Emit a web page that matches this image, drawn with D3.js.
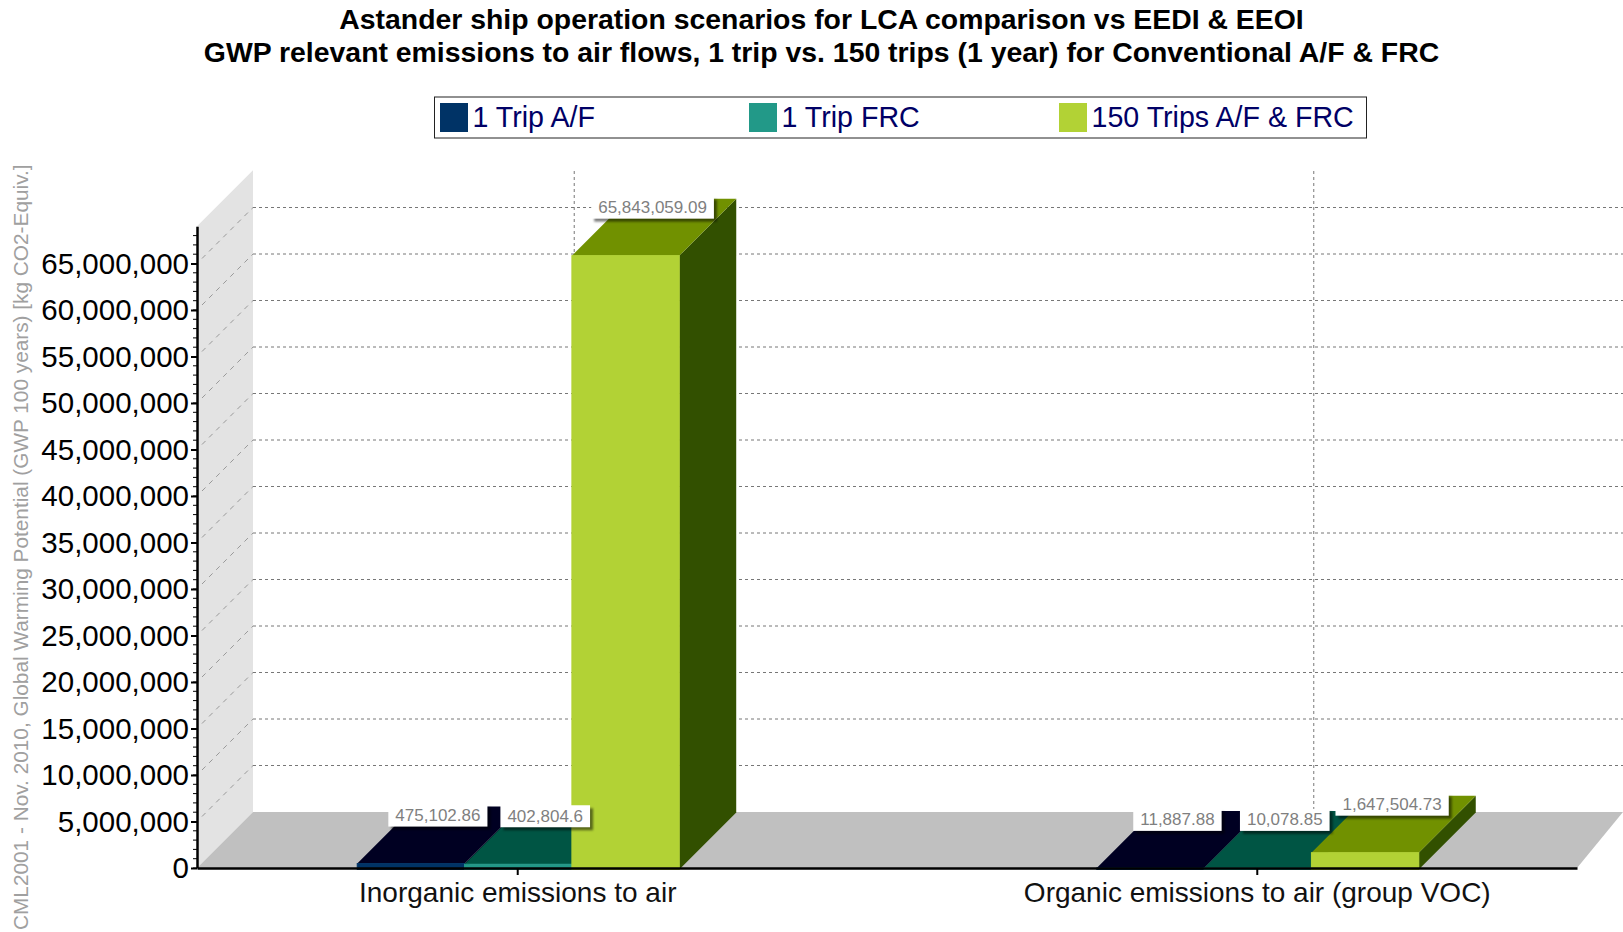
<!DOCTYPE html>
<html>
<head>
<meta charset="utf-8">
<script src="https://cdn.jsdelivr.net/npm/d3@7/dist/d3.min.js"></script>
<style>
html,body{margin:0;padding:0;background:#fff;overflow:hidden}
svg{display:block}
text{font-family:"Liberation Sans",Arial,sans-serif}
</style>
</head>
<body>
<svg id="chart" width="1623" height="932">
  <defs>
    <filter id="labelShadow" x="-10%" y="-30%" width="120%" height="160%">
      <feGaussianBlur stdDeviation="1"/>
    </filter>
  </defs>
</svg>
<script>
const titleLines = [
  "Astander ship operation scenarios for LCA comparison vs EEDI & EEOI",
  "GWP relevant emissions to air flows, 1 trip vs. 150 trips (1 year) for Conventional A/F & FRC"
];
const yAxisTitle = "CML2001 - Nov. 2010, Global Warming Potential (GWP 100 years) [kg CO2-Equiv.]";
const categories = ["Inorganic emissions to air", "Organic emissions to air (group VOC)"];
const seriesNames = ["1 Trip A/F", "1 Trip FRC", "150 Trips A/F & FRC"];
const trip1AF = [475102.86, 11887.88];
const trip1FRC = [402804.6, 10078.85];
const trips150 = [65843059.09, 1647504.73];
const valueLabels = [
  ["475,102.86", "11,887.88"],
  ["402,804.6", "10,078.85"],
  ["65,843,059.09", "1,647,504.73"]
];
const frontColors = ["#003366", "#229988", "#B2D235"];
const topColors = ["#000022", "#005544", "#719100"];
const sideColors = ["#000022", "#005544", "#325000"];

const seriesValues = [trip1AF, trip1FRC, trips150];

const svg = d3.select("#chart");
const depth = 56;
const barDepth = 57;
const x0 = 197, x1 = 1577, yBase = 868;

const y = d3.scaleLinear().domain([0, 69000000]).range([yBase, yBase - 641.7]);
const xCat = d3.scalePoint().domain(categories).range([x0, x1]).padding(0.433);
const xBar = d3.scaleBand().domain(d3.range(3)).range([-160, 162]);

/* Titles */
svg.selectAll("text.title").data(titleLines).join("text")
  .attr("class", "title")
  .attr("x", 821.5).attr("y", (d, i) => 29 + i * 33)
  .attr("text-anchor", "middle")
  .attr("font-size", 28.4).attr("font-weight", "bold").attr("fill", "#000")
  .text(d => d);

/* Legend */
const legend = svg.append("g");
legend.append("rect").attr("x", 434.5).attr("y", 97).attr("width", 932).attr("height", 41)
  .attr("fill", "#fff").attr("stroke", "#222").attr("stroke-width", 1);
const legendX = d3.scaleOrdinal().domain(seriesNames).range([440, 749, 1059]);
const legendItems = legend.selectAll("g").data(seriesNames).join("g")
  .attr("transform", d => `translate(${legendX(d)},0)`);
legendItems.append("rect").attr("y", 103).attr("width", 28).attr("height", 29)
  .attr("fill", (d, i) => frontColors[i]);
legendItems.append("text").attr("x", 32.5).attr("y", 127)
  .attr("font-size", 28.6).attr("fill", "#000066").text(d => d);

/* Walls */
const wall = svg.append("g");
wall.append("polygon").attr("fill", "#E3E3E3")
  .attr("points", [[x0, yBase], [x0, y(69000000)], [x0 + depth, y(69000000) - depth], [x0 + depth, yBase - depth]].join(" "));
wall.append("polygon").attr("fill", "#C0C0C0")
  .attr("points", [[x0, yBase], [x0 + depth, yBase - depth], [1623, yBase - depth], [x1, yBase]].join(" "));

/* Grid */
const majorTicks = d3.range(5000000, 65000001, 5000000);
const minorTicks = d3.range(0, 69000000, 1000000);
const grid = svg.append("g").attr("fill", "none");
grid.selectAll("line.h").data(majorTicks).join("line").attr("class", "h")
  .attr("x1", x0 + depth).attr("x2", 1623)
  .attr("y1", d => y(d) - depth).attr("y2", d => y(d) - depth)
  .attr("stroke", "#777").attr("stroke-dasharray", "3 3");
grid.selectAll("line.d").data(majorTicks).join("line").attr("class", "d")
  .attr("x1", x0 + 5).attr("x2", x0 + depth)
  .attr("y1", d => y(d) - 5).attr("y2", d => y(d) - depth)
  .attr("stroke", "#999").attr("stroke-dasharray", "5 5");
grid.selectAll("line.v").data(categories).join("line").attr("class", "v")
  .attr("x1", d => xCat(d) + barDepth).attr("x2", d => xCat(d) + barDepth)
  .attr("y1", yBase - depth - 641).attr("y2", yBase - depth)
  .attr("stroke", "#777").attr("stroke-dasharray", "3 3");

/* Bars: each one is a side, a top and a front face */
const bw = xBar.bandwidth();
const barBottom = yBase + 1.5;
const barData = [];
seriesValues.forEach((vals, s) => vals.forEach((v, c) => {
  barData.push({s, c, v, left: xCat(categories[c]) + xBar(s), top: y(v)});
}));
const bars = svg.append("g").selectAll("g").data(barData).join("g");
bars.append("polygon").attr("fill", d => sideColors[d.s])
  .attr("points", d => [[d.left + bw, d.top], [d.left + bw + barDepth, d.top - barDepth], [d.left + bw + barDepth, barBottom - barDepth], [d.left + bw, barBottom]].join(" "));
bars.append("polygon").attr("fill", d => topColors[d.s])
  .attr("points", d => [[d.left, d.top], [d.left + barDepth, d.top - barDepth], [d.left + bw + barDepth, d.top - barDepth], [d.left + bw, d.top]].join(" "));
bars.append("rect").attr("fill", d => frontColors[d.s])
  .attr("stroke", d => frontColors[d.s]).attr("stroke-width", 1)
  .attr("x", d => d.left).attr("y", d => d.top)
  .attr("width", bw).attr("height", d => barBottom - d.top);

/* Axes */
const yAxis = d3.axisLeft(y).tickValues(d3.range(0, 65000001, 5000000))
  .tickFormat(d3.format(",")).tickSize(6).tickSizeOuter(0).tickPadding(2);
const yAxisG = svg.append("g").attr("transform", `translate(${x0},0)`).call(yAxis);
yAxisG.selectAll("text").attr("font-size", 29.5).attr("fill", "#000").attr("dy", "0.33em")
  .style("font-family", '"Liberation Sans",Arial,sans-serif');
yAxisG.select(".domain").attr("stroke", "#000").attr("stroke-width", 2.5);
yAxisG.selectAll(".tick line").attr("stroke", "#000").attr("stroke-width", 2);
svg.append("g").selectAll("line").data(minorTicks).join("line")
  .attr("x1", x0 - 4).attr("x2", x0).attr("y1", d => y(d)).attr("y2", d => y(d))
  .attr("stroke", "#000").attr("stroke-width", 1);

const xAxis = d3.axisBottom(xCat).tickSize(7).tickSizeOuter(0).tickPadding(7);
const xAxisG = svg.append("g").attr("transform", `translate(0,${yBase})`).call(xAxis);
xAxisG.select(".domain").attr("stroke", "#000").attr("stroke-width", 2.5);
xAxisG.selectAll(".tick line").attr("stroke", "#000").attr("stroke-width", 2);
xAxisG.selectAll("text").attr("font-size", 28).attr("fill", "#111")
  .style("font-family", '"Liberation Sans",Arial,sans-serif');

svg.append("text")
  .attr("transform", "translate(28,930) rotate(-90)")
  .attr("font-size", 20.8).attr("fill", "#A0A0A0").text(yAxisTitle);

/* Value labels sit over the middle of each bar's depth */
const labels = svg.append("g").selectAll("g").data(barData).join("g")
  .attr("transform", d => `translate(${d.left + bw / 2 + barDepth / 2 - 1.5},${d.top - 37})`);
const labelText = labels.append("text").attr("text-anchor", "middle").attr("y", -5.5)
  .attr("font-size", 17).attr("fill", "#7F7F7F").text(d => valueLabels[d.s][d.c]);
labelText.each(function(d) { d.tw = this.getComputedTextLength() + 14; });
labels.insert("rect", "text").attr("x", d => -d.tw / 2 + 3).attr("y", -19).attr("width", d => d.tw).attr("height", 22)
  .attr("fill", "#000").attr("opacity", 0.5).attr("filter", "url(#labelShadow)");
labels.insert("rect", "text").attr("x", d => -d.tw / 2).attr("y", -22).attr("width", d => d.tw).attr("height", 22)
  .attr("fill", "#fff");
</script>
</body>
</html>
